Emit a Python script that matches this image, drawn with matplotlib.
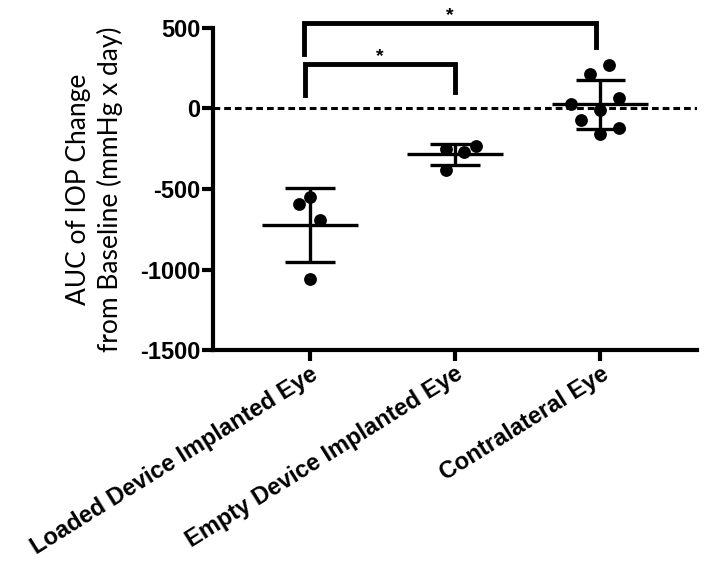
import numpy as np
import matplotlib
matplotlib.use("Agg")
import matplotlib.pyplot as plt

# data
groups = ["Loaded Device Implanted Eye", "Empty Device Implanted Eye", "Contralateral Eye"]
loaded = [-550, -591, -694, -1056]
empty = [-250, -271, -236, -380]
contra = [215, 267, 66, 29, -8, -74, -120, -161]
loaded_jit = [0.0, -0.075, 0.07, 0.0]
empty_jit = [-0.065, 0.065, 0.145, -0.065]
contra_jit = [-0.069, 0.062, 0.13, -0.2, 0.0, -0.13, 0.13, 0.0]
yticks = [500, 0, -500, -1000, -1500]

plt.rcParams['font.family'] = ['Liberation Sans', 'DejaVu Sans']

fig = plt.figure(figsize=(7.04, 5.64), dpi=100)
ax = fig.add_axes([0.3026, 0.3794, 0.6875, 0.571])

series = [loaded, empty, contra]
jits = [loaded_jit, empty_jit, contra_jit]

ax.axhline(0, color='black', lw=2.2, ls=(0, (2.2, 1.3)), zorder=1)

for i, (vals, jit) in enumerate(zip(series, jits)):
    x = i + 1
    vals = np.array(vals)
    m = vals.mean()
    sd = vals.std(ddof=1)
    ax.scatter(x + np.array(jit), vals, s=85, color='black', zorder=3, linewidths=0)
    ax.hlines(m, x - 0.33, x + 0.33, color='black', lw=2.4, zorder=4)
    ax.hlines([m - sd, m + sd], x - 0.17, x + 0.17, color='black', lw=2.4, zorder=4)
    ax.vlines(x, m - sd, m + sd, color='black', lw=2.4, zorder=4)

# significance brackets
def bracket(x1, x2, y, y1, y2):
    ax.plot([x1, x1, x2, x2], [y1, y, y, y2], color='black', lw=3.5,
            clip_on=False, solid_joinstyle='miter', zorder=5)
    ax.text((x1 + x2) / 2, y + 45, "*", ha='center', va='center',
            fontsize=14, fontweight='bold', clip_on=False)

bracket(0.97, 2.0, 277, 81, 101)
bracket(0.96, 2.97, 531, 340, 384)

ax.set_xlim(1 / 3, 3 + 2 / 3)
ax.set_ylim(-1500, 500)
ax.set_yticks(yticks)
ax.set_yticklabels([str(t) for t in yticks], fontsize=17, fontweight='bold')
ax.set_xticks([1, 2, 3])
ax.set_xticklabels(groups, fontsize=17, fontweight='bold', rotation=32,
                   ha='right', rotation_mode='anchor')

for s in ['top', 'right']:
    ax.spines[s].set_visible(False)
for s in ['left', 'bottom']:
    ax.spines[s].set_linewidth(3)
ax.tick_params(width=3, length=8)
ax.tick_params(axis='y', pad=1)
ax.tick_params(axis='x', pad=1)

ax.set_ylabel("AUC of IOP Change\nfrom Baseline (mmHg x day)", fontsize=19,
              family=['Lato', 'DejaVu Sans'], linespacing=1.3, labelpad=12)

fig.savefig("out.png", dpi=100)
